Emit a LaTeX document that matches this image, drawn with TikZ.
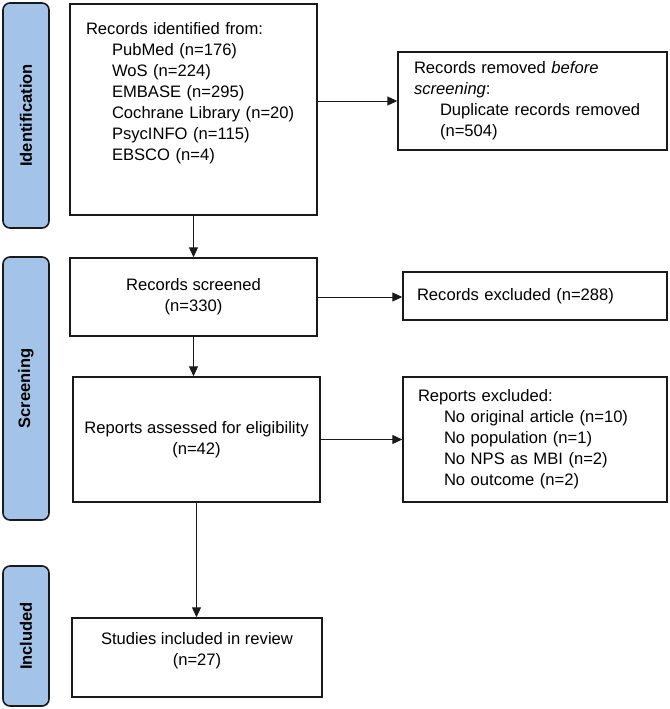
\documentclass[tikz,border=0pt]{standalone}
\usepackage{fontspec}
\setmainfont{Liberation Sans}
\usetikzlibrary{arrows.meta,positioning}
\definecolor{phasecol}{HTML}{A3C4E8}
\definecolor{linecol}{HTML}{1A1A1A}
\newcommand{\srcindent}{\hspace*{26pt}}

\begin{document}
\begin{tikzpicture}[x=1pt, y=-1pt,
  phase/.style={draw=linecol, line width=1.6pt, rounded corners=7pt,
                fill=phasecol, minimum height=46pt, rotate=90,
                font=\fontsize{16.5}{18}\selectfont\bfseries},
  box/.style={draw=linecol, line width=1.4pt, inner sep=0pt,
              font=\fontsize{16.6}{21}\selectfont},
  cbox/.style={box, align=center},
  lbox/.style={box, align=left, text width=#1, inner xsep=16pt},
  edge/.style={-{Triangle[length=10pt,width=9pt]}, line width=0.9pt, color=linecol}
]
  \useasboundingbox (0,0) rectangle (669,709);

  % phase bars
  \node[phase, minimum width=225pt] (pid) at (26,115.5) {Identification};
  \node[phase, minimum width=263pt] (pscr) at (26,388.5) {Screening};
  \node[phase, minimum width=140pt] (pinc) at (26,636) {Included};

  % flow boxes
  \node[lbox=215pt, minimum height=211pt, text depth=162pt] (idn) at (193.5,109.5)
    {Records identified from:\\
     \srcindent PubMed (n=176)\\
     \srcindent WoS (n=224)\\
     \srcindent EMBASE (n=295)\\
     \srcindent Cochrane Library (n=20)\\
     \srcindent PsycINFO (n=115)\\
     \srcindent EBSCO (n=4)};
  \node[lbox=237pt, minimum height=98pt] (rem) at (532.5,101)
    {Records removed \emph{before}\\
     \emph{screening}:\\
     \srcindent Duplicate records removed\\
     \srcindent (n=504)};
  \node[cbox, minimum width=247pt, minimum height=78pt] (scr) at (193.5,297)
    {Records screened\\(n=330)};
  \node[lbox=236pt, inner xsep=14pt, minimum height=48pt] (exc) at (535,296)
    {Records excluded (n=288)};
  \node[cbox, minimum width=247pt, minimum height=125pt] (ass) at (196.5,439.5)
    {Reports assessed for eligibility\\(n=42)};
  \node[lbox=234pt, inner xsep=15pt, minimum height=125pt] (rex) at (535,439.5)
    {Reports excluded:\\
     \srcindent No original article (n=10)\\
     \srcindent No population (n=1)\\
     \srcindent No NPS as MBI (n=2)\\
     \srcindent No outcome (n=2)};
  \node[cbox, minimum width=250pt, minimum height=79pt, text depth=18pt] (inc) at (197,657.5)
    {Studies included in review\\(n=27)};

  % connectors
  \draw[edge] (idn.east |- rem.west) -- (rem.west);
  \draw[edge] (idn.south) -- (scr.north);
  \draw[edge] (scr.east) -- (scr.east -| exc.west);
  \draw[edge] (scr.south) -- (scr.south |- ass.north);
  \draw[edge] (ass.east) -- (ass.east -| rex.west);
  \draw[edge] (ass.south) -- (ass.south |- inc.north);
\end{tikzpicture}
\end{document}
